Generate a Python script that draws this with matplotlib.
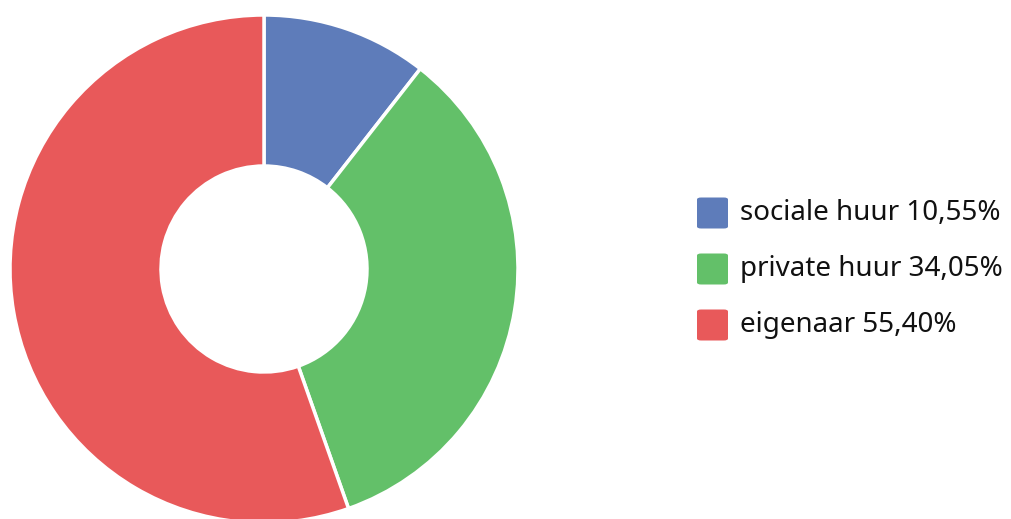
import matplotlib
matplotlib.use("Agg")
import matplotlib.pyplot as plt
from matplotlib.patches import FancyBboxPatch

plt.rcParams['font.family'] = ['Noto Sans', 'DejaVu Sans']

# data
labels = ['sociale huur', 'private huur', 'eigenaar']
shares = [10.55, 34.05, 55.40]
colors = ['#5E7CBA', '#63C069', '#E8595A']

W, H = 1011, 519
fig = plt.figure(figsize=(W / 100, H / 100), dpi=100)

# donut: centre (264, 269) px, radius 254 px, hole 103 px
cx, cy, r, hole = 264, 269, 254, 103
ax = fig.add_axes([(cx - r) / W, (H - cy - r) / H, 2 * r / W, 2 * r / H])
ax.pie(shares, colors=colors, startangle=90, counterclock=False, radius=1,
       wedgeprops=dict(width=1 - hole / r, edgecolor='white', linewidth=2.5))
ax.set_xlim(-1, 1)
ax.set_ylim(-1, 1)
ax.set_axis_off()

# legend drawn by hand so the swatches match
y0, step = 213, 56
for i, (lab, val, col) in enumerate(zip(labels, shares, colors)):
    yc = y0 + i * step
    sw = FancyBboxPatch((697 / W, (H - yc - 15.5) / H), 31 / W, 31 / H,
                        boxstyle="round,pad=0,rounding_size=0.004",
                        transform=fig.transFigure, facecolor=col, edgecolor='none')
    fig.patches.append(sw)
    txt = f"{lab} {val:.2f}%".replace('.', ',')
    fig.text(740 / W, (H - yc) / H, txt, fontsize=20, color='#111111',
             va='center', ha='left')

fig.savefig('out.png', dpi=100)
